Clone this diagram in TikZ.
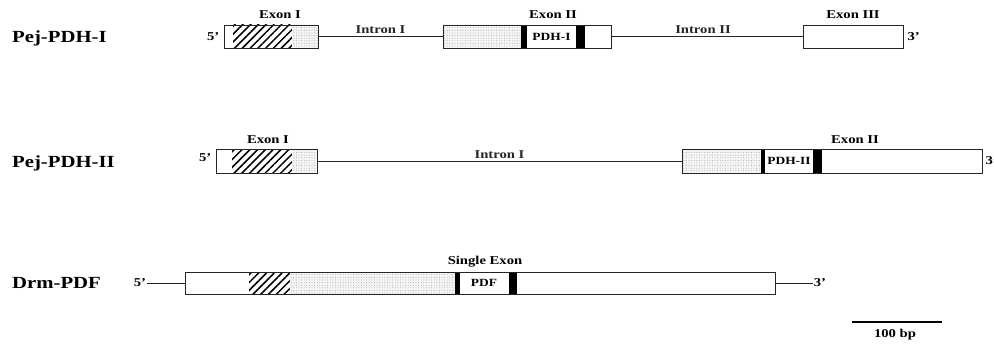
\documentclass[tikz,border=0pt]{standalone}
\usepackage{fontspec}
\setmainfont{Liberation Serif}
\newfontfamily\widefont{Liberation Serif}[FakeStretch=1.22, Ligatures=TeX]
\usetikzlibrary{patterns.meta,positioning}

\begin{document}
\begin{tikzpicture}[
    x=1pt, y=-1pt,
    seg/.style={rectangle, draw=black!85, line width=0.9pt, inner sep=0pt, minimum height=23pt},
    hatch/.style={pattern={Lines[angle=45, distance=5.5pt, line width=1.5pt]}},
    dotty/.style={preaction={fill=gray!8}, pattern={Dots[distance=2.6pt, radius=0.45pt]}, pattern color=gray!80},
    bar/.style={fill=black},
    genename/.style={font=\widefont\fontsize{17}{20}\selectfont\bfseries, anchor=west, inner sep=0pt},
    tag/.style={font=\widefont\fontsize{12}{14}\selectfont\bfseries, inner sep=1pt},
    inbox/.style={tag, font=\widefont\fontsize{11}{13}\selectfont\bfseries},
    intron/.style={line width=0.8pt, black!85}
]
\useasboundingbox (0,0) rectangle (994,345);

% Pej-PDH-I
\node[genename] (g1name) at (12,38) {Pej-PDH-I};
\fill[hatch] (233,25) rectangle (292,48);
\fill[dotty] (292,25) rectangle (318,48);
\fill[dotty] (443,25) rectangle (521,48);
\fill[bar] (521,25) rectangle (527,48);
\fill[bar] (576,25) rectangle (585,48);
\node[seg, minimum width=94pt] (g1ex1) at (271,36.5) {};
\node[seg, minimum width=168pt] (g1ex2) at (527,36.5) {};
\node[seg, minimum width=100pt] (g1ex3) at (853,36.5) {};
\node[tag, left=3pt of g1ex1] (g1p5) {5'};
\node[tag, right=3pt of g1ex3] (g1p3) {3'};
\node[inbox] (g1pdh) at (551.5,37) {PDH-I};
\node[tag] (g1lex1) at (280,15) {Exon I};
\node[tag] (g1lex2) at (553,15) {Exon II};
\node[tag] (g1lex3) at (853,15) {Exon III};
\draw[intron] (g1ex1.east) -- (g1ex2.west) node[tag, midway, above=1pt] {Intron I};
\draw[intron] (g1ex2.east) -- (g1ex3.west) node[tag, midway, above=1pt, xshift=-4pt] {Intron II};

% Pej-PDH-II
\node[genename] (g2name) at (12,163) {Pej-PDH-II};
\fill[hatch] (232,149) rectangle (292,173);
\fill[dotty] (292,149) rectangle (317,173);
\fill[dotty] (682,149) rectangle (761,173);
\fill[bar] (761,149) rectangle (765,173);
\fill[bar] (813,149) rectangle (822,173);
\node[seg, minimum width=101pt, minimum height=24pt] (g2ex1) at (266.5,161) {};
\node[seg, minimum width=300pt, minimum height=24pt] (g2ex2) at (832,161) {};
\node[tag, left=3pt of g2ex1, yshift=3pt] (g2p5) {5'};
\node[tag, right=2pt of g2ex2] (g2p3) {3'};
\node[inbox] (g2pdh) at (789,161) {PDH-II};
\node[tag] (g2lex1) at (268,140) {Exon I};
\node[tag] (g2lex2) at (855,140) {Exon II};
\draw[intron] (g2ex1.east) -- (g2ex2.west) node[tag, midway, above=1pt] {Intron I};

% Drm-PDF
\node[genename] (g3name) at (12,283) {Drm-PDF};
\fill[hatch] (249,272) rectangle (290,294);
\fill[dotty] (290,272) rectangle (455,294);
\fill[bar] (455,272) rectangle (460,294);
\fill[bar] (509,272) rectangle (517,294);
\node[seg, minimum width=590pt, minimum height=22pt] (g3ex) at (480,283) {};
\node[tag] (g3p5) at (140,283) {5'};
\node[tag] (g3p3) at (820,283) {3'};
\node[inbox] (g3pdf) at (484,283) {PDF};
\node[tag] (g3lex) at (485,262) {Single Exon};
\draw[intron] (g3p5.east) -- (g3ex.west);
\draw[intron] (g3ex.east) -- (g3p3.west);

% scale bar
\coordinate (sbl) at (852,322);
\coordinate (sbr) at (942,322);
\draw[line width=2pt] (sbl) -- (sbr);
\node[tag] (sblab) at (895,335) {100 bp};

\end{tikzpicture}
\end{document}
